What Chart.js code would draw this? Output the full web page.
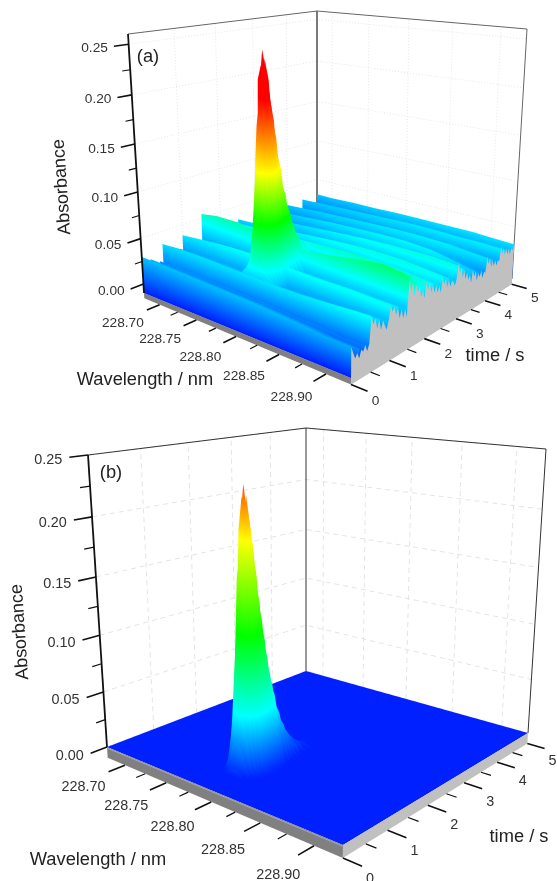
<!DOCTYPE html>
<html lang="en">
<head>
<meta charset="UTF-8">
<title>Absorbance surfaces</title>
<style>
  html, body { margin: 0; padding: 0; background: #fff; }
  #box { width: 557px; height: 881px; }
</style>
</head>
<body>
<div id="box"><canvas id="myChart" width="557" height="881"></canvas></div>
<script src="https://cdn.jsdelivr.net/npm/chart.js"></script>
<script>
// axis ticks
const wlTicks = [228.70, 228.75, 228.80, 228.85, 228.90];
const wlMinor = [228.725, 228.775, 228.825, 228.875];
const timeTicks = [0, 1, 2, 3, 4, 5];
const timeMinor = [0.5, 1.5, 2.5, 3.5, 4.5];
const absTicks = [0, 0.05, 0.10, 0.15, 0.20, 0.25];
const absMinor = [0.025, 0.075, 0.125, 0.175, 0.225];

// panel (a): background ridges, one row per time
const aWavelengths = [228.678, 228.70, 228.73, 228.76, 228.79, 228.82, 228.85, 228.88, 228.90, 228.925];
const aTimes = [0, 0.2, 0.42, 0.5, 0.7, 0.92, 1, 1.2, 1.42, 1.5, 1.7, 1.92, 2, 2.2, 2.42, 2.5, 2.7, 2.92, 3, 3.2, 3.42, 3.5, 3.7, 3.92, 4, 4.2, 4.42, 4.5, 4.7, 4.92, 5];
const aSurface = [
  [.030, .030, .029, .028, .027, .026, .024, .022, .020, .019],
  [.024, .024, .023, .022, .021, .020, .018, .016, .014, .013],
  [.018, .019, .018, .017, .016, .015, .013, .012, .010, .010],
  [.036, .037, .037, .036, .035, .034, .034, .035, .036, .037],
  [.030, .031, .031, .030, .029, .028, .028, .029, .030, .030],
  [.024, .025, .025, .024, .023, .022, .022, .023, .024, .024],
  [.038, .040, .042, .043, .042, .041, .040, .040, .039, .038],
  [.032, .034, .036, .037, .036, .035, .034, .034, .033, .032],
  [.026, .028, .030, .031, .030, .029, .028, .028, .027, .026],
  [.055, .058, .058, .054, .050, .050, .054, .058, .060, .056],
  [.046, .049, .049, .046, .043, .043, .047, .050, .051, .047],
  [.037, .040, .040, .038, .036, .036, .040, .042, .042, .038],
  [.042, .043, .044, .045, .046, .047, .048, .047, .045, .042],
  [.036, .037, .038, .039, .040, .041, .042, .041, .039, .036],
  [.030, .031, .032, .033, .034, .035, .036, .035, .033, .030],
  [.034, .035, .037, .039, .041, .043, .044, .043, .041, .038],
  [.028, .029, .031, .033, .035, .037, .038, .037, .035, .032],
  [.022, .023, .025, .027, .029, .031, .032, .031, .029, .026],
  [.032, .033, .035, .037, .039, .041, .042, .042, .042, .040],
  [.026, .027, .029, .031, .033, .035, .036, .036, .036, .033],
  [.020, .021, .023, .025, .027, .029, .030, .030, .029, .026],
  [.030, .032, .034, .036, .037, .038, .038, .036, .032, .026],
  [.024, .026, .028, .030, .031, .032, .032, .030, .026, .021],
  [.019, .021, .023, .025, .026, .027, .027, .025, .021, .016],
  [.030, .031, .033, .034, .035, .036, .036, .035, .033, .031],
  [.025, .026, .028, .029, .030, .031, .031, .030, .028, .026],
  [.020, .021, .023, .024, .025, .026, .026, .025, .023, .021],
  [.030, .031, .032, .033, .034, .035, .035, .034, .034, .033],
  [.025, .026, .027, .028, .029, .030, .030, .029, .029, .028],
  [.021, .022, .023, .024, .025, .026, .026, .025, .025, .024],
  [.030, .030, .031, .031, .032, .032, .032, .032, .031, .030]
];

// panel (a): noisy profile seen on the grey side wall
const aWallTimes = [0, .05, .1, .15, .2, .25, .3, .35, .4, .45, .5, .55, .6, .65, .7, .75, .8, .85, .9, .95, 1, 1.05, 1.1, 1.15, 1.2, 1.25, 1.3, 1.35, 1.4, 1.45, 1.5, 1.55, 1.6, 1.65, 1.7, 1.75, 1.8, 1.85, 1.9, 1.95, 2, 2.05, 2.1, 2.15, 2.2, 2.25, 2.3, 2.35, 2.4, 2.45, 2.5, 2.55, 2.6, 2.65, 2.7, 2.75, 2.8, 2.85, 2.9, 2.95, 3, 3.05, 3.1, 3.15, 3.2, 3.25, 3.3, 3.35, 3.4, 3.45, 3.5, 3.55, 3.6, 3.65, 3.7, 3.75, 3.8, 3.85, 3.9, 3.95, 4, 4.05, 4.1, 4.15, 4.2, 4.25, 4.3, 4.35, 4.4, 4.45, 4.5, 4.55, 4.6, 4.65, 4.7, 4.75, 4.8, 4.85, 4.9, 4.95, 5];
const aWallAbs = [.019, .012, .006, .010, .004, .011, .008, .013, .006, .012,
  .037, .028, .033, .022, .030, .019, .027, .021, .016, .024,
  .037, .030, .034, .025, .031, .020, .028, .018, .026, .017,
  .055, .040, .048, .034, .044, .036, .041, .029, .035, .026,
  .042, .033, .039, .028, .035, .026, .033, .024, .030, .022,
  .037, .029, .034, .024, .031, .023, .028, .026, .021, .027,
  .044, .032, .037, .025, .032, .022, .028, .019, .024, .014,
  .028, .019, .024, .013, .020, .015, .021, .012, .018, .016,
  .033, .024, .029, .019, .026, .018, .024, .017, .022, .020,
  .036, .027, .032, .024, .030, .023, .028, .021, .027, .024, .030];

// panel (a): the analyte peak
const aPeakWavelengths = [228.777, 228.781, 228.784, 228.787, 228.790, 228.793, 228.797, 228.801, 228.804, 228.807, 228.810, 228.813, 228.817];
const aPeakTimes = [0.62, 0.68, 0.74, 0.8, 0.86, 0.9, 0.95, 1, 1.05, 1.1, 1.2, 1.3, 1.4, 1.5, 1.6, 1.8];
const aPeakAbs = [
  [.030, .036, .038, .044, .051, .058, .061, .058, .051, .044, .038, .036, .030],
  [.030, .037, .042, .056, .073, .089, .096, .089, .073, .056, .042, .037, .030],
  [.030, .038, .049, .075, .105, .134, .148, .134, .105, .075, .049, .038, .030],
  [.030, .040, .055, .094, .144, .180, .204, .187, .136, .094, .055, .040, .030],
  [.030, .041, .060, .110, .160, .224, .238, .212, .168, .108, .060, .041, .030],
  [.030, .042, .061, .111, .174, .219, .252, .231, .164, .111, .061, .042, .030],
  [.030, .041, .060, .106, .166, .212, .243, .224, .170, .108, .060, .041, .030],
  [.030, .041, .058, .102, .149, .203, .226, .197, .157, .102, .058, .041, .030],
  [.030, .040, .055, .094, .140, .184, .204, .184, .140, .094, .055, .040, .030],
  [.030, .039, .053, .087, .127, .165, .183, .165, .127, .087, .053, .039, .030],
  [.030, .038, .049, .075, .105, .134, .148, .134, .105, .075, .049, .038, .030],
  [.030, .037, .045, .064, .086, .107, .117, .107, .086, .064, .045, .037, .030],
  [.030, .037, .042, .056, .073, .089, .096, .089, .073, .056, .042, .037, .030],
  [.030, .036, .040, .050, .062, .073, .078, .073, .062, .050, .040, .036, .030],
  [.030, .036, .039, .046, .054, .061, .065, .061, .054, .046, .039, .036, .030],
  [.030, .035, .037, .040, .044, .048, .050, .048, .044, .040, .037, .035, .030]
];

// panel (b): the peak over a flat baseline
const bPeakWavelengths = [228.777, 228.781, 228.784, 228.787, 228.790, 228.793, 228.797, 228.801, 228.804, 228.807, 228.810, 228.813, 228.817];
const bPeakTimes = [0.55, 0.62, 0.68, 0.74, 0.8, 0.86, 0.9, 0.95, 1, 1.05, 1.1, 1.15, 1.2, 1.25, 1.3, 1.35, 1.4, 1.5, 1.6, 1.7, 1.8, 1.95, 2.1];
const bPeakAbs = [
  [0, .000, .001, .002, .004, .006, .007, .006, .004, .002, .001, .000, 0],
  [0, .001, .003, .010, .017, .025, .028, .025, .017, .010, .003, .001, 0],
  [0, .002, .008, .023, .041, .058, .066, .058, .041, .023, .008, .002, 0],
  [0, .004, .015, .043, .076, .107, .122, .107, .076, .043, .015, .004, 0],
  [0, .005, .022, .064, .113, .161, .183, .161, .113, .064, .022, .005, 0],
  [0, .007, .027, .079, .140, .198, .225, .198, .140, .079, .027, .007, 0],
  [0, .007, .028, .082, .145, .206, .234, .206, .145, .082, .028, .007, 0],
  [0, .007, .027, .079, .140, .198, .225, .198, .140, .079, .027, .007, 0],
  [0, .006, .025, .072, .128, .181, .206, .181, .128, .072, .025, .006, 0],
  [0, .005, .022, .064, .113, .161, .183, .161, .113, .064, .022, .005, 0],
  [0, .005, .019, .056, .099, .140, .159, .140, .099, .056, .019, .005, 0],
  [0, .004, .017, .049, .087, .123, .140, .123, .087, .049, .017, .004, 0],
  [0, .004, .015, .043, .076, .107, .122, .107, .076, .043, .015, .004, 0],
  [0, .003, .013, .037, .065, .092, .105, .092, .065, .037, .013, .003, 0],
  [0, .003, .011, .031, .055, .078, .089, .078, .055, .031, .011, .003, 0],
  [0, .002, .009, .027, .048, .068, .077, .068, .048, .027, .009, .002, 0],
  [0, .002, .008, .023, .041, .058, .066, .058, .041, .023, .008, .002, 0],
  [0, .001, .006, .016, .029, .041, .047, .041, .029, .016, .006, .001, 0],
  [0, .001, .004, .012, .020, .029, .033, .029, .020, .012, .004, .001, 0],
  [0, .001, .003, .008, .014, .020, .023, .020, .014, .008, .003, .001, 0],
  [0, .000, .002, .006, .010, .014, .016, .014, .010, .006, .002, .000, 0],
  [0, .000, .001, .003, .006, .008, .009, .008, .006, .003, .001, .000, 0],
  [0, .000, .001, .002, .003, .004, .005, .004, .003, .002, .001, .000, 0]
];

// the box of each panel on the page: floor and roof corners, in the order
// (first wl, t=0) (last wl, t=0) (last wl, t=5) (first wl, t=5)
const panelA = {
  floor: [[144, 293], [351, 378], [512, 279], [317, 224]],
  roof: [[128, 34], [353, 67], [527, 29], [317, 11]],
  wMin: 228.678, wMax: 228.925, zMin: -0.01, zMax: 0.26, zPlate: -0.016, lean: 0.93,
  colors: [[-0.01, "rgb(0,30,255)"], [0.04, "rgb(0,255,255)"], [0.085, "rgb(0,255,0)"], [0.135, "rgb(255,255,0)"], [0.205, "rgb(255,0,0)"], [0.26, "rgb(255,0,0)"]],
  gridDash: [1, 2], gridColor: "#e6e6e6", boxColor: "#666666", plateEdge: null,
  tickLen: 0.3, absDx: -6, absDy: 2, wlDx: -24, wlDy: 13, wlStepX: 0.5, wlStepY: 0.8, tDx: 8, tDy: 10, tickFont: "13.7px 'Liberation Sans'"
};
const panelB = {
  floor: [[107, 747], [343, 845], [528, 733], [306, 671]],
  roof: [[88, 455], [346, 492], [546, 449], [306, 428]],
  wMin: 228.678, wMax: 228.925, zMin: 0, zMax: 0.25, zPlate: -0.01, lean: 0.93,
  colors: [[0, "rgb(0,32,255)"], [0.05, "rgb(0,255,255)"], [0.115, "rgb(0,255,0)"], [0.19, "rgb(255,255,0)"], [0.25, "rgb(255,0,0)"]],
  gridDash: [5, 4], gridColor: "#e4e4e4", boxColor: "#333333", plateEdge: "#a8a8a8",
  tickLen: 0.33, absDx: -7, absDy: 3, wlDx: -25, wlDy: 15, wlStepX: 1.3, wlStepY: 1.2, tDx: 8, tDy: 13, tickFont: "14.4px 'Liberation Sans'"
};

function homography(q) {
  const [[x0, y0], [x1, y1], [x2, y2], [x3, y3]] = q;
  const dx1 = x1 - x2, dx2 = x3 - x2, sx = x0 - x1 + x2 - x3;
  const dy1 = y1 - y2, dy2 = y3 - y2, sy = y0 - y1 + y2 - y3;
  const den = dx1 * dy2 - dx2 * dy1;
  const g = (sx * dy2 - dx2 * sy) / den;
  const h = (dx1 * sy - sx * dy1) / den;
  const a = x1 - x0 + g * x1, b = x3 - x0 + h * x3;
  const d = y1 - y0 + g * y1, e = y3 - y0 + h * y3;
  return (u, v) => {
    const w = g * u + h * v + 1;
    return [(a * u + b * v + x0) / w, (d * u + e * v + y0) / w];
  };
}

panelA.low = homography(panelA.floor); panelA.high = homography(panelA.roof);
panelB.low = homography(panelB.floor); panelB.high = homography(panelB.roof);

// wavelength, time, absorbance -> page position
function project(p, wl, t, z) {
  const u = (wl - p.wMin) / (p.wMax - p.wMin), v = t / 5;
  const s = (z - p.zMin) / (p.zMax - p.zMin);
  const k = s * p.lean / ((1 - s) + s * p.lean);
  const a = p.low(u, v), b = p.high(u, v);
  return { x: a[0] + (b[0] - a[0]) * k, y: a[1] + (b[1] - a[1]) * k };
}

const gap = { x: NaN, y: NaN };
let layers = [];

function addLine(points, color, width, dash) {
  layers.push({
    type: "scatter", data: points, showLine: true, pointRadius: 0,
    borderColor: color, borderWidth: width, borderDash: dash || [], fill: false
  });
}

function addShape(points, color) {
  layers.push({
    type: "scatter", data: points, showLine: true, pointRadius: 0,
    borderWidth: 0, borderColor: "transparent", fill: "shape", backgroundColor: color
  });
}

// colour runs with height, so the gradient lies across the row
function rowGradient(p, t) {
  return function (ctx) {
    const c = ctx.chart.ctx;
    const l = project(p, p.wMin, t, p.zMin), r = project(p, p.wMax, t, p.zMin);
    const len = Math.hypot(r.x - l.x, r.y - l.y);
    const nx = (r.y - l.y) / len, ny = -(r.x - l.x) / len;
    const mid = (p.wMin + p.wMax) / 2;
    const o = project(p, mid, t, p.zMin), e = project(p, mid, t, p.zMax);
    const span = (e.x - o.x) * nx + (e.y - o.y) * ny;
    const g = c.createLinearGradient(o.x, o.y, o.x + nx * span, o.y + ny * span);
    p.colors.forEach(function (s) {
      const q = project(p, mid, t, s[0]);
      const f = ((q.x - o.x) * nx + (q.y - o.y) * ny) / span;
      g.addColorStop(Math.min(1, Math.max(0, f)), s[1]);
    });
    return g;
  };
}

function addRow(p, wls, t, zs) {
  const pts = wls.map((w, i) => project(p, w, t, zs[i]));
  pts.push(project(p, wls[wls.length - 1], t, p.zMin));
  pts.push(project(p, wls[0], t, p.zMin));
  addShape(pts, rowGradient(p, t));
}

function addFrame(p) {
  const grid = [];
  absTicks.forEach(function (z) {
    grid.push(project(p, p.wMin, 0, z), project(p, p.wMin, 5, z), project(p, p.wMax, 5, z), gap);
  });
  [1, 2, 3, 4].forEach(function (t) {
    grid.push(project(p, p.wMin, t, p.zMin), project(p, p.wMin, t, p.zMax), gap);
  });
  wlTicks.forEach(function (w) {
    grid.push(project(p, w, 5, p.zMin), project(p, w, 5, p.zMax), gap);
  });
  addLine(grid, p.gridColor, 1, p.gridDash);
  addLine([
    project(p, p.wMin, 0, p.zMax), project(p, p.wMin, 5, p.zMax), project(p, p.wMax, 5, p.zMax),
    project(p, p.wMax, 5, p.zMin), gap,
    project(p, p.wMin, 5, p.zMax), project(p, p.wMin, 5, p.zMin)
  ], p.boxColor, 1);
}

function addPlate(p) {
  addShape([project(p, p.wMin, 0, p.zMin), project(p, p.wMax, 0, p.zMin), project(p, p.wMax, 0, p.zPlate), project(p, p.wMin, 0, p.zPlate)], "#808080");
  addShape([project(p, p.wMax, 0, p.zMin), project(p, p.wMax, 5, p.zMin), project(p, p.wMax, 5, p.zPlate), project(p, p.wMax, 0, p.zPlate)], "#c0c0c0");
  if (p.plateEdge) addLine([project(p, p.wMin, 0, p.zMin - 0.001), project(p, p.wMax, 0, p.zMin - 0.001)], p.plateEdge, 1);
}

function addTicks(p) {
  const major = [], minor = [];
  wlTicks.forEach(w => major.push(project(p, w, 0, p.zPlate), project(p, w, -p.tickLen, p.zPlate), gap));
  wlMinor.forEach(w => minor.push(project(p, w, 0, p.zPlate), project(p, w, -p.tickLen * 0.55, p.zPlate), gap));
  timeTicks.forEach(t => major.push(project(p, p.wMax, t, p.zPlate), project(p, p.wMax + 0.016, t, p.zPlate), gap));
  timeMinor.forEach(t => minor.push(project(p, p.wMax, t, p.zPlate), project(p, p.wMax + 0.009, t, p.zPlate), gap));
  absTicks.forEach(z => major.push(project(p, p.wMin, 0, z), project(p, p.wMin, -p.tickLen, z), gap));
  absMinor.forEach(z => minor.push(project(p, p.wMin, 0, z), project(p, p.wMin, -p.tickLen * 0.55, z), gap));
  addLine(major, "#111111", 1.6);
  addLine(minor, "#111111", 1.2);
  addLine([project(p, p.wMin, 0, p.zMax), project(p, p.wMin, 0, p.zMin)], "#111111", 1.8);
}

// panel (a), back to front
addFrame(panelA);
addShape([project(panelA, panelA.wMin, 0, panelA.zMin), project(panelA, panelA.wMax, 0, panelA.zMin), project(panelA, panelA.wMax, 5, panelA.zMin), project(panelA, panelA.wMin, 5, panelA.zMin)], "rgb(0,30,255)");
let rowsA = [];
aTimes.forEach((t, i) => rowsA.push({ t: t, w: aWavelengths, z: aSurface[i] }));
aPeakTimes.forEach((t, i) => rowsA.push({ t: t, w: aPeakWavelengths, z: aPeakAbs[i] }));
rowsA.sort((a, b) => b.t - a.t);
rowsA.forEach(r => addRow(panelA, r.w, r.t, r.z));
addPlate(panelA);
const wallA = aWallTimes.map((t, i) => project(panelA, panelA.wMax, t, aWallAbs[i]));
wallA.push(project(panelA, panelA.wMax, 5, panelA.zPlate), project(panelA, panelA.wMax, 0, panelA.zPlate));
addShape(wallA, "#c0c0c0");
addTicks(panelA);

// panel (b), back to front
addFrame(panelB);
addShape([project(panelB, panelB.wMin, 0, 0), project(panelB, panelB.wMax, 0, 0), project(panelB, panelB.wMax, 5, 0), project(panelB, panelB.wMin, 5, 0)], "rgb(0,32,255)");
bPeakTimes.slice().reverse().forEach(function (t) {
  addRow(panelB, bPeakWavelengths, t, bPeakAbs[bPeakTimes.indexOf(t)]);
});
addPlate(panelB);
addTicks(panelB);

// first dataset is painted last in chart.js
layers.forEach((d, i) => { d.order = layers.length - i; });

const textPlugin = {
  id: "panelText",
  afterDraw(chart) {
    const c = chart.ctx;
    const sx = chart.scales.x, sy = chart.scales.y;
    function put(text, pos, dx, dy, font, align, color) {
      c.font = font; c.textAlign = align; c.textBaseline = "middle"; c.fillStyle = color;
      c.fillText(text, sx.getPixelForValue(pos.x) + dx, sy.getPixelForValue(pos.y) + dy);
    }
    function rot(text, x, y) {
      c.save();
      c.translate(x, y);
      c.rotate(-94 * Math.PI / 180);
      c.font = "18px 'Liberation Sans'"; c.textAlign = "center"; c.textBaseline = "middle"; c.fillStyle = "#222";
      c.fillText(text, 0, 0);
      c.restore();
    }
    [panelA, panelB].forEach(function (p) {
      absTicks.forEach(z => put(z.toFixed(2), project(p, p.wMin, -p.tickLen, z), p.absDx, p.absDy, p.tickFont, "right", "#333"));
      wlTicks.forEach((w, i) => put(w.toFixed(2), project(p, w, -p.tickLen, p.zPlate), p.wlDx + i * p.wlStepX, p.wlDy + i * p.wlStepY, p.tickFont, "center", "#333"));
      timeTicks.forEach(t => put(String(t), project(p, p.wMax + 0.016, t, p.zPlate), p.tDx, p.tDy, p.tickFont, "center", "#333"));
    });
    c.font = "18.3px 'Liberation Sans'"; c.textAlign = "center"; c.textBaseline = "middle"; c.fillStyle = "#222";
    c.fillText("Wavelength / nm", 145, 380);
    c.fillText("time / s", 495, 356);
    c.fillText("(a)", 148, 57);
    c.fillText("Wavelength / nm", 98, 860);
    c.fillText("time / s", 519, 837);
    c.fillText("(b)", 111, 473);
    rot("Absorbance", 62, 187);
    rot("Absorbance", 20, 632);
  }
};

new Chart(document.getElementById("myChart"), {
  type: "scatter",
  data: { datasets: layers },
  options: {
    responsive: false,
    animation: false,
    layout: { padding: 0 },
    events: [],
    plugins: { legend: { display: false }, tooltip: { enabled: false }, title: { display: false } },
    scales: {
      x: { type: "linear", min: 0, max: 557, display: false },
      y: { type: "linear", min: 0, max: 881, reverse: true, display: false }
    }
  },
  plugins: [textPlugin]
});
</script>
</body>
</html>
